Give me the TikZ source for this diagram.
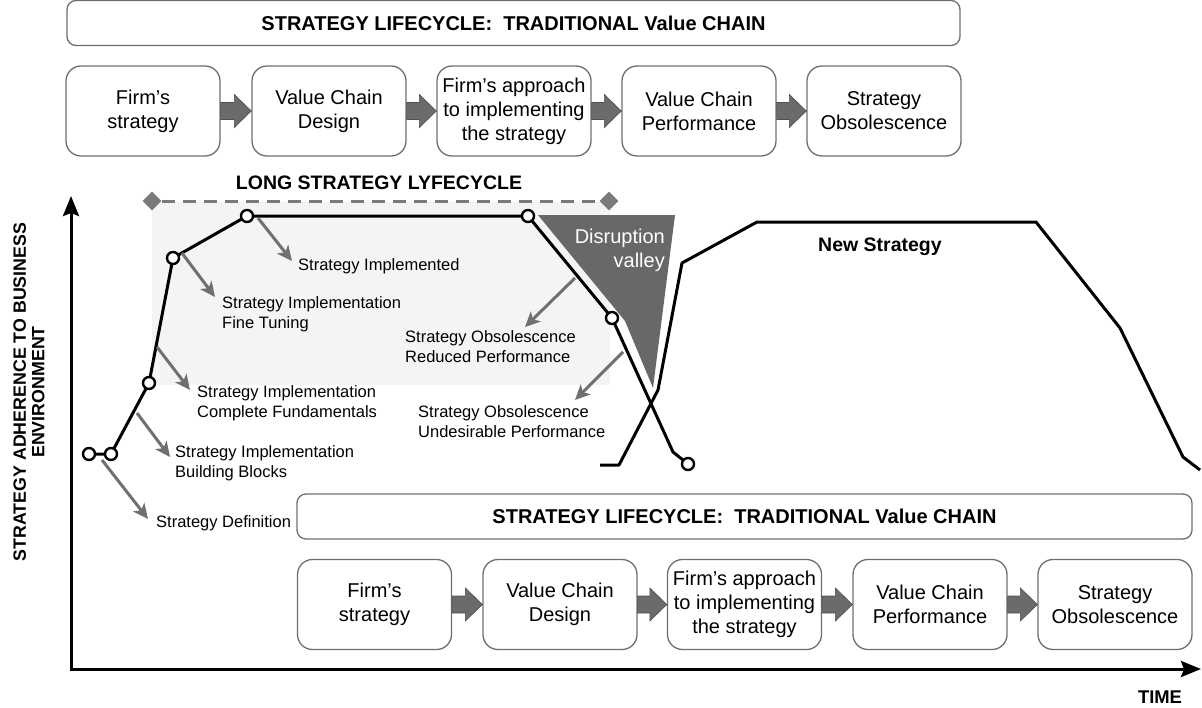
\documentclass[tikz,border=0pt]{standalone}
\usepackage{fontspec}
\setmainfont{Liberation Sans}
\usetikzlibrary{arrows.meta,calc,shapes.geometric}
\definecolor{boxline}{HTML}{6E6E6E}
\definecolor{arrfill}{HTML}{6B6B6B}
\definecolor{arrline}{HTML}{4F4F4F}
\definecolor{annot}{HTML}{707070}
\definecolor{bandgray}{HTML}{F4F4F4}
\definecolor{valleyc}{HTML}{686868}
\definecolor{dashc}{HTML}{7A7A7A}
\newcommand{\blockarrow}[2]{%
  \draw[blkarr] ($(#1.east)+(0,-8.5)$) -- ($(#2.west)+(-17,-8.5)$) -- ($(#2.west)+(-17,-16.5)$) -- (#2.west)
   -- ($(#2.west)+(-17,16.5)$) -- ($(#2.west)+(-17,8.5)$) -- ($(#1.east)+(0,8.5)$) -- cycle;}
\begin{document}
\begin{tikzpicture}[x=1pt,y=-1pt,
  procbox/.style={draw=boxline, line width=1.3pt, rounded corners=15pt, minimum width=154pt, minimum height=90pt, inner sep=0pt, align=center, font=\fontsize{20}{24}\selectfont},
  headbox/.style={draw=boxline, line width=1.3pt, rounded corners=9pt, minimum height=45pt, inner sep=0pt, font=\bfseries\fontsize{20}{24}\selectfont},
  blkarr/.style={fill=arrfill, draw=arrline, line width=0.6pt},
  curve/.style={line width=3pt, line join=round},
  dot/.style={circle, draw=black, fill=white, line width=2.4pt, minimum size=12pt, inner sep=0pt},
  annarr/.style={draw=annot, line width=3pt, -{Stealth[length=15pt,width=14pt,inset=4pt]}},
  lbl/.style={anchor=west, align=left, inner sep=0pt, font=\fontsize{16.5}{20}\selectfont},
  axisline/.style={line width=3pt, line join=miter, {Stealth[length=20pt,width=16pt,inset=3pt]}-{Stealth[length=20pt,width=16pt,inset=3pt]}},
  diam/.style={diamond, fill=dashc, minimum size=19pt, inner sep=0pt},
]
\useasboundingbox (0,0) rectangle (1202,707);

% ---------- top chain ----------
\node[headbox, minimum width=893pt] (th) at (513.5,23) {STRATEGY LIFECYCLE:\ \ TRADITIONAL Value CHAIN};
\node[procbox] (t1) at (143,111) {Firm’s\\strategy};
\node[procbox] (t2) at (329,111) {Value Chain\\Design};
\node[procbox] (t3) at (514,111) {Firm’s approach\\to implementing\\the strategy};
\node[procbox] (t4) at (699,111) {Value Chain\\Performance};
\node[procbox] (t5) at (884,111) {Strategy\\Obsolescence};
\blockarrow{t1}{t2}
\blockarrow{t2}{t3}
\blockarrow{t3}{t4}
\blockarrow{t4}{t5}

% ---------- long lifecycle band ----------
\fill[bandgray] (152,202) rectangle (610,385);
\node[diam] (dl) at (152,201) {};
\node[diam] (dr) at (609,201) {};
\draw[dashc, line width=3pt, dash pattern=on 13pt off 8pt] (dl) -- (dr);
\node[font=\bfseries\fontsize{19.5}{24}\selectfont, inner sep=0pt] (long) at (379,183) {LONG STRATEGY LYFECYCLE};

% ---------- disruption valley ----------
\fill[valleyc] (538,215) -- (675,215) -- (653,388) -- (625,321) -- cycle;
\node[anchor=east, align=right, inner sep=0pt, text=white, font=\fontsize{20}{24}\selectfont] (dv) at (665,250) {Disruption\\valley};

% ---------- axes ----------
\coordinate (Ytop) at (71,196);
\coordinate (O) at (71,669);
\coordinate (Xend) at (1201,669);
\draw[axisline] (Ytop) -- (O) -- (Xend);
\node[font=\bfseries\fontsize{18.4}{22}\selectfont, inner sep=0pt] (time) at (1160,697) {TIME};
\node[rotate=90, align=center, inner sep=0pt, font=\bfseries\fontsize{17.8}{18.5}\selectfont] (ylab) at (29,392) {STRATEGY ADHERENCE TO BUSINESS\\ENVIRONMENT};

% ---------- new strategy curve ----------
\coordinate (n1) at (600,465);
\coordinate (n2) at (619,465);
\coordinate (n3) at (658,390);
\coordinate (n4) at (682,263);
\coordinate (n5) at (757,222);
\coordinate (n6) at (1036,222);
\coordinate (n7) at (1120,328);
\coordinate (n8) at (1183,457);
\coordinate (n9) at (1200,470);
\draw[curve] (n1) -- (n2) -- (n3) -- (n4) -- (n5) -- (n6) -- (n7) -- (n8) -- (n9);
\node[font=\bfseries\fontsize{19.5}{24}\selectfont, inner sep=0pt] (newst) at (880,247) {New Strategy};

% ---------- old strategy curve ----------
\coordinate (c1) at (89,454);
\coordinate (c2) at (111,454);
\coordinate (c3) at (149,383);
\coordinate (c4) at (173,258);
\coordinate (c5) at (247,216);
\coordinate (c6) at (528,216);
\coordinate (c7) at (612,318);
\coordinate (c8) at (673,452);
\coordinate (c9) at (688,464);
\draw[curve] (c1) -- (c2) -- (c3) -- (c4) -- (c5) -- (c6) -- (c7) -- (c8) -- (c9);
\foreach \p in {c1,c2,c3,c4,c5,c6,c7,c9} \node[dot] at (\p) {};

% ---------- annotations ----------
\node[lbl] (l1) at (156,523) {Strategy Definition};
\node[lbl] (l2) at (175,463) {Strategy Implementation\\Building Blocks};
\node[lbl] (l3) at (197,403) {Strategy Implementation\\Complete Fundamentals};
\node[lbl] (l4) at (222,314) {Strategy Implementation\\Fine Tuning};
\node[lbl] (l5) at (298,266) {Strategy Implemented};
\node[lbl] (l6) at (405,347) {Strategy Obsolescence\\Reduced Performance};
\node[lbl] (l7) at (418,422) {Strategy Obsolescence\\Undesirable Performance};
\coordinate (s1) at (102,460); \coordinate (e1) at (148,519);
\coordinate (s2) at (137,413); \coordinate (e2) at (170,457);
\coordinate (s3) at (157,347); \coordinate (e3) at (190,390);
\coordinate (s4) at (182,253); \coordinate (e4) at (215,297);
\coordinate (s5) at (258,218); \coordinate (e5) at (292,261);
\coordinate (s6) at (575,278); \coordinate (e6) at (525,327);
\coordinate (s7) at (623,352); \coordinate (e7) at (575,400);
\foreach \i in {1,...,7} \draw[annarr] (s\i) -- (e\i);

% ---------- bottom chain ----------
\node[headbox, minimum width=895pt] (bh) at (744.5,516.5) {STRATEGY LIFECYCLE:\ \ TRADITIONAL Value CHAIN};
\node[procbox] (b1) at (374.5,604.5) {Firm’s\\strategy};
\node[procbox] (b2) at (560,604.5) {Value Chain\\Design};
\node[procbox] (b3) at (744.5,604.5) {Firm’s approach\\to implementing\\the strategy};
\node[procbox] (b4) at (930,604.5) {Value Chain\\Performance};
\node[procbox] (b5) at (1115,604.5) {Strategy\\Obsolescence};
\blockarrow{b1}{b2}
\blockarrow{b2}{b3}
\blockarrow{b3}{b4}
\blockarrow{b4}{b5}
\end{tikzpicture}
\end{document}
